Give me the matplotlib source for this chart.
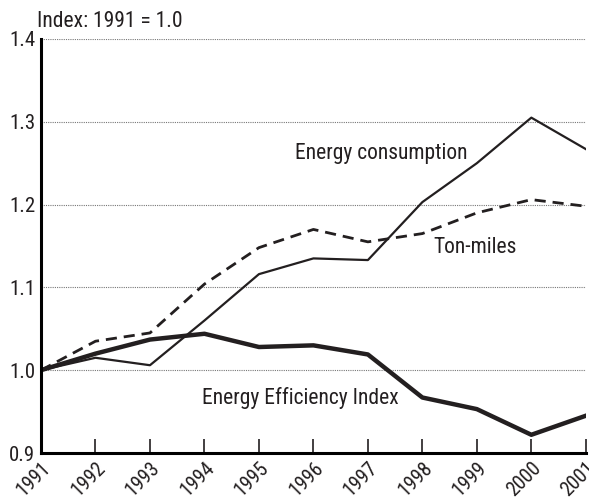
import matplotlib.pyplot as plt
from matplotlib import font_manager

years = [1991, 1992, 1993, 1994, 1995, 1996, 1997, 1998, 1999, 2000, 2001]
energy_consumption = [1.0, 1.015, 1.006, 1.06, 1.116, 1.135, 1.133, 1.203, 1.25, 1.305, 1.267]
ton_miles = [1.0, 1.035, 1.045, 1.104, 1.148, 1.17, 1.155, 1.165, 1.19, 1.206, 1.198]
efficiency_index = [1.0, 1.02, 1.037, 1.044, 1.028, 1.03, 1.019, 0.967, 0.953, 0.922, 0.945]
yticks = [0.9, 1.0, 1.1, 1.2, 1.3, 1.4]

names = {f.name for f in font_manager.fontManager.ttflist}
fam = [f for f in ["Liberation Sans Narrow", "Roboto Condensed", "Liberation Sans"] if f in names]
plt.rcParams['font.family'] = fam + ['DejaVu Sans']

fig = plt.figure(figsize=(5.89, 5.03), dpi=100)
ax = fig.add_axes([0.0696, 0.0994, 0.925, 0.8231])

ax.plot(years, energy_consumption, color="#231f20", lw=1.6)
ax.plot(years, ton_miles, color="#231f20", lw=2.0, ls=(0, (4, 2.5)))
ax.plot(years, efficiency_index, color="#231f20", lw=3.2)

ax.set_xlim(1991, 2001)
ax.set_ylim(0.9, 1.4)
ax.set_xticks(years)
ax.set_xticklabels([str(y) for y in years], rotation=45, ha="right", rotation_mode="anchor")
ax.set_yticks(yticks)
ax.set_yticklabels(["%.1f" % v for v in yticks])
for v in yticks[1:]:
    ax.axhline(v, color="#777777", lw=0.8, ls=(0, (1, 1)), zorder=0)

for s in ["top", "right"]:
    ax.spines[s].set_visible(False)
ax.spines["left"].set_linewidth(2.2)
ax.spines["bottom"].set_linewidth(2.2)
ax.tick_params(axis="x", direction="in", length=10, width=1.2, labelsize=14.5, pad=4, colors="#231f20")
ax.tick_params(axis="y", length=0, labelsize=15, pad=4, colors="#231f20")

ax.text(1995.66, 1.262, "Energy consumption", fontsize=15.5, color="#231f20", va="center")
ax.text(1998.2, 1.1486, "Ton-miles", fontsize=15.5, color="#231f20", va="center")
ax.text(1993.95, 0.966, "Energy Efficiency Index", fontsize=15.5, color="#231f20", va="center")
fig.text(0.062, 0.946, "Index: 1991 = 1.0", fontsize=15.5, color="#231f20")

fig.savefig("out.png", dpi=100)
